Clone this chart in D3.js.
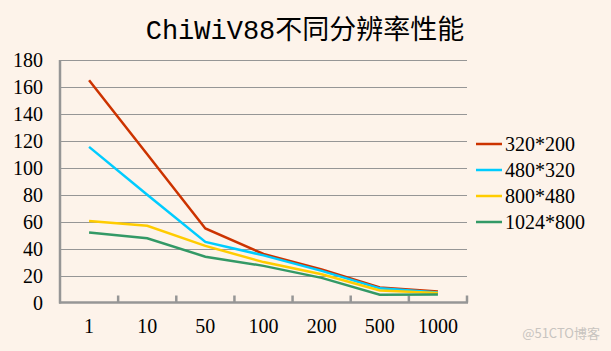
<!DOCTYPE html>
<html><head><meta charset="utf-8">
<script src="https://cdn.jsdelivr.net/npm/d3@7"></script>
<style>
html,body{margin:0;padding:0;background:#FDF3EA;}
svg{display:block;}
</style></head>
<body>
<svg id="c" width="611" height="351"></svg>
<script>
const title = "ChiWiV88不同分辨率性能";
const categories = ["1","10","50","100","200","500","1000"];
const seriesNames = ["320*200","480*320","800*480","1024*800"];
const s320x200 = [165, 110, 55, 36, 24.5, 11.2, 8.2];
const s480x320 = [115.5, 80, 45, 35, 23.5, 10.5, 7.5];
const s800x480 = [60.5, 57, 42, 30, 21, 8.9, 7];
const s1024x800 = [52, 47.7, 34, 27.2, 18.3, 5.8, 6];
const seriesValues = [s320x200, s480x320, s800x480, s1024x800];
const colors = ["#CC3300","#00CCFF","#FFCC00","#339966"];
const yTicks = [0,20,40,60,80,100,120,140,160,180];

(function(){
const svg = d3.select("#c");
const pL = 60, pR = 467, pT = 60, pB = 302.5;
const serif = "'Liberation Serif','Noto Sans CJK SC',serif";

svg.append("rect").attr("width",611).attr("height",351).attr("fill","#FDF3EA");

svg.append("text").attr("x",305).attr("y",39).attr("text-anchor","middle")
  .attr("font-family","'Liberation Mono','Noto Sans CJK SC',monospace")
  .attr("font-size",27).attr("fill","#000").text(title);

const x = d3.scaleBand().domain(categories).range([pL,pR]);
const y = d3.scaleLinear().domain([0,180]).range([pB,pT]);

svg.append("g").selectAll("line").data(yTicks.filter(d=>d>0)).join("line")
  .attr("x1",pL).attr("x2",pR).attr("y1",d=>Math.round(y(d))+0.5).attr("y2",d=>Math.round(y(d))+0.5)
  .attr("stroke","#969696").attr("stroke-width",1);

svg.append("g").selectAll("text").data(yTicks).join("text")
  .attr("x",43).attr("y",d=>y(d)).attr("dy","0.35em").attr("text-anchor","end")
  .attr("font-family",serif).attr("font-size",20).attr("fill","#000").text(d=>d);

svg.append("line").attr("x1",pL).attr("x2",pL).attr("y1",pT).attr("y2",pB+1)
  .attr("stroke","#969696").attr("stroke-width",2.5);
svg.append("line").attr("x1",pL-1).attr("x2",pR+1).attr("y1",pB).attr("y2",pB)
  .attr("stroke","#969696").attr("stroke-width",2.5);
const bounds = categories.map(c=>x(c)+x.bandwidth());
svg.append("g").selectAll("line").data(bounds).join("line")
  .attr("x1",d=>d).attr("x2",d=>d).attr("y1",pB).attr("y2",pB-7)
  .attr("stroke","#969696").attr("stroke-width",2.5);

svg.append("g").selectAll("text").data(categories).join("text")
  .attr("x",d=>x(d)+x.bandwidth()/2).attr("y",333).attr("text-anchor","middle")
  .attr("font-family",serif).attr("font-size",20).attr("fill","#000").text(d=>d);

const line = d3.line().x((d,i)=>x(categories[i])+x.bandwidth()/2).y(d=>y(d));
svg.append("g").selectAll("path").data(seriesValues).join("path")
  .attr("d",line).attr("fill","none").attr("stroke",(d,i)=>colors[i]).attr("stroke-width",2.5);

const lg = svg.append("g").selectAll("g").data(seriesNames).join("g")
  .attr("transform",(d,i)=>`translate(0,${144+i*26})`);
lg.append("line").attr("x1",476).attr("x2",502).attr("y1",0).attr("y2",0)
  .attr("stroke",(d,i)=>colors[i]).attr("stroke-width",2.5);
lg.append("text").attr("x",505).attr("y",0).attr("dy","0.35em")
  .attr("font-family",serif).attr("font-size",20).attr("fill","#000").text(d=>d);

svg.append("text").attr("x",600).attr("y",338).attr("text-anchor","end")
  .attr("font-family","'Noto Sans CJK SC',sans-serif").attr("font-size",13)
  .attr("fill","#C8C4C0").text("@51CTO博客");
})();
</script>
</body></html>
